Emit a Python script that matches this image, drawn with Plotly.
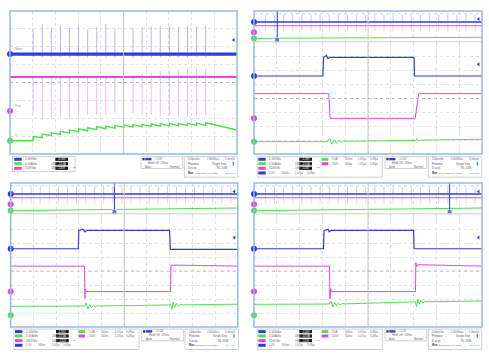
import plotly.graph_objects as go

W, H = 489, 363

BLUE = '#2c3fdc'
BLUE_L = '#aab1ee'
PINK = '#e842e2'
PINK_L = '#efb0ef'
GREEN = '#52de52'
GRID = '#e0e0e0'
BORDER = '#94b9ea'

# ---------------- Panel A (top-left, full acquisition) ----------------
A_spike_x = [1.02, 1.42, 1.82, 2.22, 2.62, 3.02, 3.42, 3.82, 4.22, 4.62,
             5.42, 5.82, 6.22, 6.62, 7.02, 7.42, 7.82, 8.22, 8.62]
A_blue_level = 1.59
A_blue_top = [3.03, 3.25, 3.07, 3.18, 3.07, 3.16, 2.97, 3.09, 3.29, 2.99,
              3.03, 3.12, 3.16, 3.16, 3.16, 3.12, 3.18, 3.16, 3.18]
A_blue_bot = [1.40, 1.42, 1.40, 1.42, 1.40, 1.42, 1.40, 1.42, 1.40, 1.42,
              1.40, 1.42, 1.40, 1.42, 1.40, 1.42, 1.40, 1.42, 1.40]
A_pink_level = 0.31
A_pink_top = [0.31, 0.31, 0.31, 0.31, 0.31, 0.31, 0.31, 0.31, 0.33, 0.36,
              0.42, 0.47, 0.55, 0.64, 0.64, 0.70, 0.75, 0.75, 0.75]
A_pink_bot = [-1.73, -2.10, -2.01, -1.91, -2.01, -1.82, -1.82, -1.82, -1.82, -1.73,
              -1.73, -1.78, -1.82, -1.87, -1.82, -1.87, -1.91, -1.82, -1.82]
A_green_x = [0, 1.02, 1.02, 1.42, 1.42, 1.82, 1.82, 2.22, 2.22, 2.62, 2.62, 3.02, 3.02,
             3.42, 3.42, 3.82, 3.82, 4.22, 4.22, 4.62, 4.62, 5.02, 5.02, 5.42, 5.42,
             5.82, 5.82, 6.22, 6.22, 6.62, 6.62, 7.02, 7.02, 7.42, 7.42, 7.82, 7.82,
             8.22, 8.22, 8.62, 8.62, 10]
A_green_y = [-3.26, -3.26, -3.03, -3.09, -2.88, -2.98, -2.81, -2.90, -2.73, -2.83, -2.66,
             -2.75, -2.59, -2.70, -2.53, -2.64, -2.47, -2.59, -2.44, -2.55, -2.40,
             -2.51, -2.38, -2.49, -2.36, -2.47, -2.34, -2.46, -2.32, -2.44, -2.31,
             -2.42, -2.29, -2.42, -2.29, -2.40, -2.27, -2.40, -2.27, -2.40, -2.25, -2.66]
A_markers = {'blue': 1.59, 'pink': -1.60, 'green': -3.26}

# ---------------- Overview strips of the zoomed panels ----------------
OV_spike_x = [0.5, 0.9, 1.3, 1.7, 2.1, 2.5, 2.9, 3.3, 3.7, 4.1, 4.5, 4.9,
              5.3, 5.7, 6.1, 6.5, 6.9, 7.3, 7.7, 8.1, 8.5, 8.9, 9.3, 9.7]
OV_blue = 1.25
OV_pink = 0.30
OV_green_start = [-2.83, -2.92, -2.92]
OV_green_end = [-2.58, -2.25, -2.25]
OV_cursor_x = [1.02, 4.57, 8.58]
OV_markers = {'blue': 1.25, 'pink': -1.30, 'green': -2.85}

# ---------------- Zoomed main windows ----------------
B_blue_x = [0, 3.02, 3.05, 3.18, 3.24, 3.32, 7.02, 7.04, 10]
B_blue_y = [1.62, 1.62, 2.97, 3.10, 2.88, 2.97, 2.97, 1.62, 1.62]
B_pink_x = [0, 3.28, 3.34, 7.07, 7.22, 10]
B_pink_y = [0.35, 0.35, -1.43, -1.43, 0.35, 0.35]
B_green_x = [0, 3.22, 3.32, 3.42, 3.52, 3.62, 3.72, 3.82, 3.92, 4.1, 7.08, 7.15, 7.22, 7.3, 10]
B_green_y = [-3.11, -3.11, -2.88, -3.30, -2.95, -3.24, -3.00, -3.16, -3.05, -3.08,
             -3.02, -2.90, -3.08, -3.00, -2.94]
B_markers = {'blue': 1.62, 'pink': -1.43, 'green': -3.11}

C_blue_x = [0, 2.98, 3.00, 3.18, 3.27, 3.35, 7.00, 7.03, 10]
C_blue_y = [1.59, 1.59, 2.90, 2.98, 2.80, 2.90, 2.90, 1.55, 1.55]
C_pink_x = [0, 3.25, 3.27, 3.29, 3.33, 7.04, 7.06, 7.2, 10]
C_pink_y = [0.35, 0.35, -1.95, -1.28, -1.47, -1.47, 0.42, 0.42, 0.35]
C_green_x = [0, 3.25, 3.32, 3.40, 3.48, 3.56, 3.64, 3.72, 3.80, 3.95, 7.05, 7.10, 7.16,
             7.22, 7.30, 7.38, 7.46, 7.60, 10]
C_green_y = [-2.52, -2.50, -2.28, -2.72, -2.40, -2.62, -2.45, -2.57, -2.48, -2.50,
             -2.42, -2.75, -2.22, -2.60, -2.32, -2.50, -2.40, -2.42, -2.37]

D_blue_x = [0, 3.05, 3.07, 3.25, 3.30, 3.38, 7.00, 7.02, 10]
D_blue_y = [1.59, 1.59, 2.90, 2.97, 2.80, 2.90, 2.90, 1.59, 1.59]
D_pink_x = [0, 3.31, 3.33, 3.36, 3.40, 7.08, 7.10, 7.13, 7.20, 10]
D_pink_y = [0.35, 0.35, -2.00, -1.25, -1.47, -1.47, 0.60, 0.30, 0.45, 0.35]
D_green_x = [0, 3.30, 3.38, 3.46, 3.54, 3.62, 3.70, 3.78, 3.86, 4.0, 7.08, 7.13, 7.19,
             7.25, 7.33, 7.41, 7.49, 7.62, 10]
D_green_y = [-2.38, -2.36, -2.15, -2.58, -2.25, -2.48, -2.30, -2.42, -2.33, -2.35,
             -2.20, -2.55, -2.00, -2.38, -2.10, -2.28, -2.18, -2.20, -2.14]
CD_markers = {'blue': 1.59, 'pink': -1.47, 'green': -3.16}

# ---------------- Readout texts ----------------
CH_SCALES = ['2.00V/div', '5.00A/div', '200V/div']
CH_OFFSETS = ['-3.36V', '-13.6A', '-120V']
ZOOM_ROW = ['2.0V', '500ns', '-1.07μs', '3.49μs']
ZOOM_ROW_G = ['3.0A', '500ns', '-1.07μs', '3.49μs']
ZOOM_ROW_P = ['200V', '500ns', '-1.07μs', '3.49μs']
TRIG_TEXT = ['2.0V', 'Hold Off: 176ns', 'Auto', 'Normal']
ACQ_TEXT = ['200pts/div', '2.00GSa/s', '5.0ms/pt', 'Preview', 'Single Seq',
            '8 acqs', 'RL:20M', 'Mon', 'September 06, 2023']
ACQ_TIMES = ['13:41:48', '13:43:22', '13:44:32', '13:45:06']
TAGS = ['Vout', 'Vsw', 'IL']

fig = go.Figure()
layout = dict(width=W, height=H, margin=dict(l=0, r=0, t=0, b=0), autosize=False,
              paper_bgcolor='white', plot_bgcolor='white', showlegend=False)

def X(px):
    return px / W

def Y(py):
    return 1 - py / H

panels = [
    (1, (10, 237), (11, 154), 'full'),
    (2, (254, 482), (11, 43), 'ov'),
    (3, (254, 482), (43, 154), 'main'),
    (4, (10.7, 237.7), (183, 215), 'ov'),
    (5, (10.7, 237.7), (215, 327), 'main'),
    (6, (254, 482), (183, 215), 'ov'),
    (7, (254, 482), (215, 327), 'main'),
]
shapes = []
annotations = []
for i, (xp0, xp1), (yp0, yp1), kind in panels:
    sx = '' if i == 1 else str(i)
    xa = dict(domain=[X(xp0), X(xp1)], range=[0, 10], dtick=1, showgrid=True,
              gridcolor=GRID, griddash='dot', gridwidth=1, zeroline=False,
              showticklabels=False, ticks='', showline=False, fixedrange=True,
              anchor='y' + sx)
    ya = dict(domain=[Y(yp1), Y(yp0)], range=[-4, 4], dtick=1 if kind != 'ov' else 4,
              showgrid=(kind != 'ov'), gridcolor=GRID, griddash='dot', gridwidth=1,
              zeroline=False, showticklabels=False, ticks='', showline=False,
              fixedrange=True, anchor='x' + sx)
    layout['xaxis' + sx] = xa
    layout['yaxis' + sx] = ya
    xr, yr = 'x' + sx, 'y' + sx
    if kind != 'ov':
        shapes.append(dict(type='line', xref=xr, yref=yr, x0=5, x1=5, y0=-4, y1=4,
                           line=dict(color='#c4c4c4', width=1)))
        shapes.append(dict(type='line', xref=xr, yref=yr, x0=0, x1=10, y0=0, y1=0,
                           line=dict(color='#bdbdbd', width=1, dash='dot')))
    else:
        shapes.append(dict(type='line', xref=xr, yref=yr, x0=0, x1=10, y0=3.3, y1=3.3,
                           line=dict(color='#d4d4d4', width=1, dash='dot')))
        shapes.append(dict(type='line', xref=xr, yref=yr, x0=0, x1=10, y0=-3.7, y1=-3.7,
                           line=dict(color='#cccccc', width=1)))
        shapes.append(dict(type='line', xref=xr, yref=yr, x0=5, x1=5, y0=-4, y1=4,
                           line=dict(color='#d0d0d0', width=1)))

for (xp0, xp1), (yp0, yp1) in [((10, 237), (11, 154)), ((254, 482), (11, 154)),
                                ((10.7, 237.7), (183, 327)), ((254, 482), (183, 327))]:
    shapes.append(dict(type='rect', xref='paper', yref='paper', x0=X(xp0), x1=X(xp1),
                       y0=Y(yp1), y1=Y(yp0), line=dict(color=BORDER, width=1.5)))


def line(xr, yr, xs, ys, color, width=1.0):
    fig.add_trace(go.Scatter(x=xs, y=ys, mode='lines', xaxis=xr, yaxis=yr,
                             line=dict(color=color, width=width), hoverinfo='skip'))


def spikes(xr, yr, xs, lo, hi, color, width=0.8):
    px, py = [], []
    for x, a, b in zip(xs, lo, hi):
        px += [x, x, None]
        py += [a, b, None]
    line(xr, yr, px, py, color, width)


def markers(xr, yr, mk):
    for c, col in (('blue', BLUE), ('pink', PINK), ('green', GREEN)):
        fig.add_trace(go.Scatter(x=[0.0], y=[mk[c]], mode='markers', xaxis=xr, yaxis=yr,
                                 cliponaxis=False, hoverinfo='skip',
                                 marker=dict(color=col, size=6, symbol='circle')))


# ---- Panel A traces ----
spikes('x', 'y', A_spike_x, A_blue_bot, A_blue_top, BLUE_L, 0.9)
spikes('x', 'y', A_spike_x, A_pink_bot, A_pink_top, PINK_L, 0.9)
line('x', 'y', [0, 10], [A_blue_level, A_blue_level], BLUE, 3.2)
line('x', 'y', [0, 10], [A_pink_level, A_pink_level], PINK, 2.0)
line('x', 'y', A_green_x, A_green_y, GREEN, 1.4)
markers('x', 'y', A_markers)
for tag, yv, col in zip(TAGS, [A_markers['blue'], A_markers['pink'], A_markers['green']],
                        [BLUE, PINK, GREEN]):
    annotations.append(dict(xref='x', yref='y', x=0.15, y=yv + 0.3, text=tag,
                            showarrow=False, xanchor='left',
                            font=dict(size=3.0, color=col)))

# ---- overview strips ----
for k, (xr, yr) in enumerate([('x2', 'y2'), ('x4', 'y4'), ('x6', 'y6')]):
    n = len(OV_spike_x)
    spikes(xr, yr, OV_spike_x, [OV_blue] * n, [3.1] * n, BLUE_L, 0.7)
    spikes(xr, yr, OV_spike_x, [-1.1] * n, [0.9] * n, PINK_L, 0.7)
    line(xr, yr, [0, 10], [OV_blue, OV_blue], BLUE, 1.3)
    line(xr, yr, [0, 10], [OV_pink, OV_pink], PINK, 1.1)
    line(xr, yr, [0, 10], [OV_green_start[k], OV_green_end[k]], GREEN, 1.0)
    cx = OV_cursor_x[k]
    line(xr, yr, [cx, cx], [4, -3.0], BLUE, 1.0)
    fig.add_trace(go.Scatter(x=[cx], y=[-3.3], mode='markers', xaxis=xr, yaxis=yr,
                             cliponaxis=False, hoverinfo='skip',
                             marker=dict(color=BLUE, size=[5], symbol='square')))
    markers(xr, yr, OV_markers)

# ---- main zoom windows ----
for xr, yr, bx, by, pxs, pys, gx, gy, mk in [
        ('x3', 'y3', B_blue_x, B_blue_y, B_pink_x, B_pink_y, B_green_x, B_green_y, B_markers),
        ('x5', 'y5', C_blue_x, C_blue_y, C_pink_x, C_pink_y, C_green_x, C_green_y, CD_markers),
        ('x7', 'y7', D_blue_x, D_blue_y, D_pink_x, D_pink_y, D_green_x, D_green_y, CD_markers)]:
    line(xr, yr, gx, gy, GREEN, 1.0)
    line(xr, yr, pxs, pys, PINK, 1.0)
    line(xr, yr, bx, by, BLUE, 1.2)
    markers(xr, yr, mk)

for xr, yr, yv in [('x', 'y', 2.38), ('x2', 'y2', 2.0), ('x3', 'y3', 2.46),
                   ('x4', 'y4', 1.9), ('x5', 'y5', 2.4), ('x6', 'y6', 1.9), ('x7', 'y7', 2.4)]:
    fig.add_trace(go.Scatter(x=[9.85], y=[yv], mode='markers', xaxis=xr, yaxis=yr,
                             hoverinfo='skip', cliponaxis=False,
                             marker=dict(color=BLUE, size=3.5, symbol='triangle-left')))


# ---- readout boxes ----
def rect(x0, y0, x1, y1, fill, linecol=None):
    shapes.append(dict(type='rect', xref='paper', yref='paper', x0=X(x0), x1=X(x1),
                       y0=Y(y1), y1=Y(y0), fillcolor=fill,
                       line=dict(color=linecol or fill, width=0.8 if linecol else 0)))


def txt(x, y, s, col='#666666', anchor='left', size=2.9, bold=False):
    if bold:
        s = '<b>' + s + '</b>'
    annotations.append(dict(xref='paper', yref='paper', x=X(x), y=Y(y), text=s,
                            showarrow=False, xanchor=anchor, yanchor='middle',
                            font=dict(size=size, color=col, family='Liberation Sans')))


def readout(ox, oy, full, tstamp):
    cols = [BLUE, GREEN, PINK]
    if full:
        rect(ox + 2.3, oy, ox + 65, oy + 15, 'white', '#c4c4c4')
        rows = [2.6, 7.0, 11.6]
    else:
        rect(ox + 3.3, oy, ox + 128.3, oy + 20.5, 'white', '#c4c4c4')
        rows = [2.6, 7.0, 11.6, 16.3]
    for r, (yy, c) in enumerate(zip(rows[:3], cols)):
        rect(ox + 4.3, oy + yy - 1.5, ox + 11.7, oy + yy + 1.5, c)
        txt(ox + 12.8, oy + yy, CH_SCALES[r])
        if r > 0:
            txt(ox + 39.3, oy + yy, '1MΩ', size=2.7)
        rect(ox + 45.3, oy + yy - 1.6, ox + 58, oy + yy + 1.6, '#1a1a1a')
        txt(ox + 51.6, oy + yy, CH_OFFSETS[r], col='white', anchor='center', size=2.6)
    txt(ox + 60.5, oy + rows[2], 'ᵇʷ', size=3.0)
    if not full:
        yy = rows[3]
        rect(ox + 4.3, oy + yy - 1.5, ox + 11.7, oy + yy + 1.5, BLUE)
        for j, s in enumerate(ZOOM_ROW):
            txt(ox + 13 + j * 12.5, oy + yy, s, size=2.7)
        for yy, c, vals in [(rows[0], GREEN, ZOOM_ROW_G), (rows[1], PINK, ZOOM_ROW_P)]:
            rect(ox + 67.7, oy + yy - 1.5, ox + 74.3, oy + yy + 1.5, c)
            for j, s in enumerate(vals):
                txt(ox + 76 + j * 12.5, oy + yy, s, size=2.7)
    # trigger box
    rect(ox + 131, oy, ox + 172.7, oy + 11.8, 'white', '#c4c4c4')
    rect(ox + 132.3, oy + 1.2, ox + 134.6, oy + 3.6, '#333366')
    rect(ox + 135.2, oy + 1.2, ox + 141.5, oy + 3.6, BLUE)
    txt(ox + 142.3, oy + 2.4, '⁄ ' + TRIG_TEXT[0])
    txt(ox + 136, oy + 6.3, TRIG_TEXT[1])
    txt(ox + 133, oy + 10.0, TRIG_TEXT[2])
    txt(ox + 171.5, oy + 10.0, TRIG_TEXT[3], anchor='right')
    # acquisition box
    rect(ox + 174.3, oy, ox + 227.7, oy + 20.5, 'white', '#c4c4c4')
    txt(ox + 176, oy + 2.6, ACQ_TEXT[0], size=2.6)
    txt(ox + 194.5, oy + 2.6, ACQ_TEXT[1], size=2.6)
    txt(ox + 226.5, oy + 2.6, ACQ_TEXT[2], anchor='right', size=2.6)
    txt(ox + 176, oy + 7.0, ACQ_TEXT[3], col=BLUE)
    txt(ox + 218, oy + 7.0, ACQ_TEXT[4], anchor='right')
    rect(ox + 222.6, oy + 5.3, ox + 224.0, oy + 8.8, '#3aa0e8')
    txt(ox + 176, oy + 11.6, ACQ_TEXT[5])
    txt(ox + 220, oy + 11.6, ACQ_TEXT[6], anchor='right')
    txt(ox + 176, oy + 16.3, ACQ_TEXT[7], col='#333333', bold=True, size=2.6)
    txt(ox + 182.5, oy + 16.3, ACQ_TEXT[8], size=2.5)
    txt(ox + 226.5, oy + 16.3, tstamp, col='#3a7fd8', anchor='right', size=2.5)


readout(10, 156.7, True, ACQ_TIMES[0])
readout(254, 156.7, False, ACQ_TIMES[1])
readout(10.7, 329, False, ACQ_TIMES[2])
readout(254, 329, False, ACQ_TIMES[3])

layout['shapes'] = shapes
layout['annotations'] = annotations
fig.update_layout(**layout)
fig.write_html('out.html', config={'displayModeBar': False, 'staticPlot': True},
               post_script="document.body.style.margin='0';document.body.style.padding='0';"
                           "document.body.style.overflow='hidden';")
